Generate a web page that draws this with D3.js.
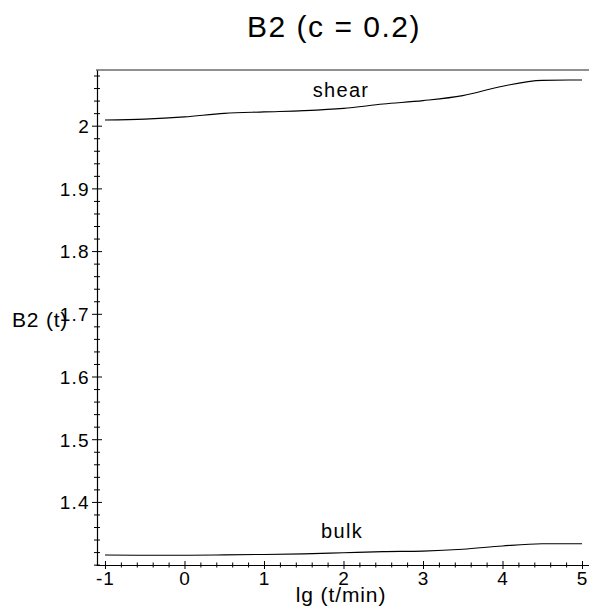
<!DOCTYPE html>
<html>
<head>
<meta charset="utf-8">
<script src="https://cdn.jsdelivr.net/npm/d3@7/dist/d3.min.js"></script>
<style>
  html, body { margin: 0; padding: 0; background: #fff; }
  svg { display: block; font-family: "Liberation Sans", Arial, sans-serif; }
</style>
</head>
<body>
<svg id="chart" width="589" height="613"></svg>
<script>
// ---- data ----
const lgT   = [-1, -0.5, 0, 0.5, 1, 1.5, 2, 2.5, 3, 3.5, 4, 4.5, 5];
const shear = [2.0090, 2.0104, 2.0140, 2.0197, 2.0220, 2.0240, 2.0276, 2.0345, 2.0400, 2.0480, 2.0630, 2.0723, 2.0729];
const bulk  = [1.3153, 1.3150, 1.3150, 1.3156, 1.3162, 1.3172, 1.3190, 1.3207, 1.3216, 1.3245, 1.3298, 1.3333, 1.3334];
const xMajor = [-1, 0, 1, 2, 3, 4, 5];
const yMajor = [1.4, 1.5, 1.6, 1.7, 1.8, 1.9, 2];
const curveLabels = ["shear", "bulk"];
const title = "B2 (c = 0.2)";
const xTitle = "lg (t/min)";
const yTitle = "B2 (t)";

const svg = d3.select("#chart");

const x = d3.scaleLinear().domain([-1.113, 5.088]).range([96, 589]);
const y = d3.scaleLinear().domain([1.2994, 2.0888]).range([565, 70]);

const xMinor = d3.range(-1, 5.0001, 0.2).map(v => +v.toFixed(2)).filter(v => !xMajor.some(m => Math.abs(m - v) < 1e-6));
const yMinor = d3.range(1.30, 2.0801, 0.02).map(v => +v.toFixed(2)).filter(v => !yMajor.some(m => Math.abs(m - v) < 1e-6));

const ink = "#000";
const fam = "Liberation Sans, Arial, sans-serif";

// top frame line
svg.append("line")
  .attr("x1", x.range()[0]).attr("x2", x.range()[1])
  .attr("y1", y.range()[1]).attr("y2", y.range()[1])
  .attr("stroke", "#222").attr("stroke-width", 1.2);

// ---- x axis ----
const gx = svg.append("g").attr("transform", "translate(0,565)");
gx.call(d3.axisBottom(x).tickValues(xMajor).tickSize(4).tickSizeOuter(0).tickFormat(d => String(d)));
gx.select(".domain").attr("stroke", ink).attr("stroke-width", 1.2);
gx.selectAll(".tick line").attr("y1", -4).attr("y2", 4).attr("stroke", ink);
gx.selectAll(".tick text").attr("y", 7).attr("dy", "0.71em")
  .attr("font-size", 19).attr("font-family", fam)
  .attr("fill", ink).attr("letter-spacing", 1);
const gxm = svg.append("g").attr("transform", "translate(0,565)");
gxm.call(d3.axisBottom(x).tickValues(xMinor).tickSize(2.5).tickSizeOuter(0).tickFormat(""));
gxm.select(".domain").remove();
gxm.selectAll(".tick line").attr("y1", -2.5).attr("y2", 2.5).attr("stroke", ink);

// ---- y axis ----
const gy = svg.append("g").attr("transform", "translate(97,0)");
gy.call(d3.axisLeft(y).tickValues(yMajor).tickSize(5).tickSizeOuter(0).tickFormat(d => String(d)));
gy.select(".domain").attr("stroke", ink).attr("stroke-width", 1.2);
gy.selectAll(".tick line").attr("x1", 5).attr("x2", -5).attr("stroke", ink);
gy.selectAll(".tick text").attr("x", -7).attr("dy", "0.36em")
  .attr("font-size", 19).attr("font-family", fam)
  .attr("fill", ink).attr("letter-spacing", 1.3);
const gym = svg.append("g").attr("transform", "translate(97,0)");
gym.call(d3.axisLeft(y).tickValues(yMinor).tickSize(3).tickSizeOuter(0).tickFormat(""));
gym.select(".domain").remove();
gym.selectAll(".tick line").attr("x1", 3).attr("x2", -3).attr("stroke", ink);

// ---- curves ----
const line = d3.line().x((d, i) => x(lgT[i])).y(d => y(d)).curve(d3.curveMonotoneX);
[shear, bulk].forEach(s => {
  svg.append("path").attr("d", line(s))
    .attr("fill", "none").attr("stroke", ink).attr("stroke-width", 1.1);
});

// ---- labels ----
svg.append("text").attr("x", 341).attr("y", 97).attr("text-anchor", "middle")
  .attr("font-size", 20).attr("letter-spacing", 1.3).text(curveLabels[0]);
svg.append("text").attr("x", 342).attr("y", 538).attr("text-anchor", "middle")
  .attr("font-size", 20).attr("letter-spacing", 1.3).text(curveLabels[1]);

svg.append("text").attr("x", 334).attr("y", 37).attr("text-anchor", "middle")
  .attr("font-size", 30).attr("letter-spacing", 1.5).text(title);
svg.append("text").attr("x", 341).attr("y", 602).attr("text-anchor", "middle")
  .attr("font-size", 21).attr("letter-spacing", 0.9).text(xTitle);
svg.append("text").attr("x", 12).attr("y", 327).attr("text-anchor", "start")
  .attr("font-size", 21).attr("letter-spacing", 0.8).text(yTitle);
</script>
</body>
</html>
